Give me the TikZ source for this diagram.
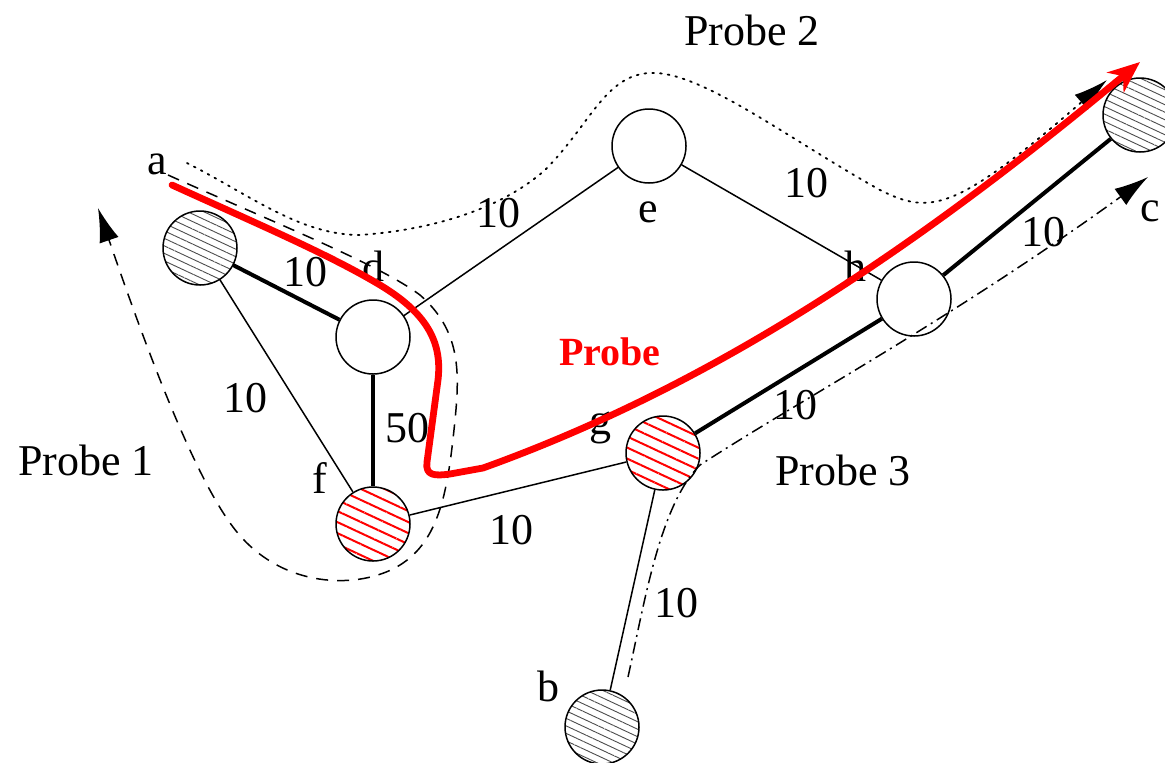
\documentclass[tikz,border=0pt]{standalone}
\usepackage{xcolor}
\usepackage{fontspec}
\setmainfont{Liberation Serif}
\usepackage{tikz}
\usetikzlibrary{arrows.meta,patterns.meta}

\begin{document}
\begin{tikzpicture}[x=0.5pt,y=-0.5pt,
  router/.style={circle,draw,line width=0.75pt,minimum size=37pt,inner sep=0pt,fill=white},
  hostgray/.style={router,fill=none,pattern={Lines[angle=-25,distance=3.4pt,line width=0.45pt]},pattern color=black!70},
  hostred/.style={router,fill=none,pattern={Lines[angle=-25,distance=5pt,line width=1pt]},pattern color=red},
  lbl/.style={font=\fontsize{22}{26}\selectfont,inner sep=0pt},
  link/.style={line width=0.75pt},
  heavy/.style={line width=2pt},
  probeone/.style={line width=0.75pt,dash pattern=on 6pt off 4.5pt,-{Latex[length=17pt,width=10pt]}},
  probetwo/.style={line width=0.9pt,dash pattern=on 0.9pt off 3pt,line cap=round,-{Latex[length=17pt,width=10pt]}},
  probethree/.style={line width=0.75pt,dash pattern=on 6pt off 2.5pt on 1pt off 2.5pt,-{Latex[length=17pt,width=10pt]}},
  redprobe/.style={line width=3.4pt,red,line cap=round,line join=round,-{Stealth[length=16pt,width=13pt,inset=5pt]}}]
\useasboundingbox (0,0) rectangle (1165,762);
% routers and hosts
\node[hostgray] (a) at (200,248) {};
\node[router] (d) at (373,337) {};
\node[router] (e) at (649,146) {};
\node[router] (h) at (914,299) {};
\node[hostred] (f) at (373,524) {};
\node[hostred] (g) at (663,453) {};
\node[hostgray] (b) at (602,727) {};
\node[hostgray] (c) at (1140,115) {};
% links
\draw[heavy] (a)--(d);
\draw[link] (a)--(f);
\draw[heavy] (d)--(f);
\draw[link] (d)--(e);
\draw[link] (e)--(h);
\draw[link] (f)--(g);
\draw[heavy] (g)--(h);
\draw[heavy] (h)--(c);
\draw[link] (g)--(b);
% names
\node[lbl] (na) at (157,164) {a};
\node[lbl] (nd) at (373,266) {d};
\node[lbl] (ne) at (648,212) {e};
\node[lbl] (nh) at (855,266) {h};
\node[lbl] (nf) at (320,478) {f};
\node[lbl] (ng) at (600,428) {g};
\node[lbl] (nb) at (548,686) {b};
\node[lbl] (nc) at (1150,211) {c};
% costs
\node[lbl] (wad) at (305,272) {10};
\node[lbl] (waf) at (245,398) {10};
\node[lbl] (wdf) at (407,428) {50};
\node[lbl] (wde) at (498,213) {10};
\node[lbl] (weh) at (806,183) {10};
\node[lbl] (wfg) at (511,530) {10};
\node[lbl] (wgh) at (795,405) {10};
\node[lbl] (whc) at (1043,232) {10};
\node[lbl] (wgb) at (676,603) {10};
% probes
\node[lbl] (pone) at (86,460) {Probe 1};
\node[lbl] (ptwo) at (752,30) {Probe 2};
\node[lbl] (pthree) at (843,470) {Probe 3};
\node[lbl,font=\fontsize{20}{24}\selectfont\bfseries,text=red] (pred) at (610,352) {Probe};
\coordinate (s1) at (168,175);
\coordinate (t1) at (98,208);
\coordinate (s2) at (187,163);
\coordinate (t2) at (1107,80);
\coordinate (s3) at (628,677);
\coordinate (t3) at (1148,177);
\coordinate (s4) at (172,185);
\coordinate (t4) at (1140,62);
\draw[probeone] (s1) .. controls (280,225) and (380,265) .. (420,295)
  .. controls (460,330) and (460,370) .. (455,420)
  .. controls (448,490) and (440,540) .. (400,565)
  .. controls (360,590) and (280,590) .. (233,527)
  .. controls (190,470) and (140,330) .. (t1);
\draw[probetwo] (s2) .. controls (250,195) and (300,235) .. (360,235)
  .. controls (430,230) and (500,210) .. (545,170)
  .. controls (590,125) and (605,75) .. (650,73)
  .. controls (700,70) and (790,140) .. (880,190)
  .. controls (930,215) and (955,212) .. (t2);
\draw[probethree] (s3) .. controls (645,600) and (660,505) .. (700,465)
  .. controls (800,400) and (950,320) .. (t3);
\draw[redprobe] (s4) .. controls (260,225) and (330,255) .. (380,285)
  .. controls (430,315) and (442,345) .. (438,380) -- (427,462)
  .. controls (425,476) and (435,476) .. (450,474) -- (483,468)
  .. controls (700,390) and (900,262) .. (t4);
\end{tikzpicture}
\end{document}
